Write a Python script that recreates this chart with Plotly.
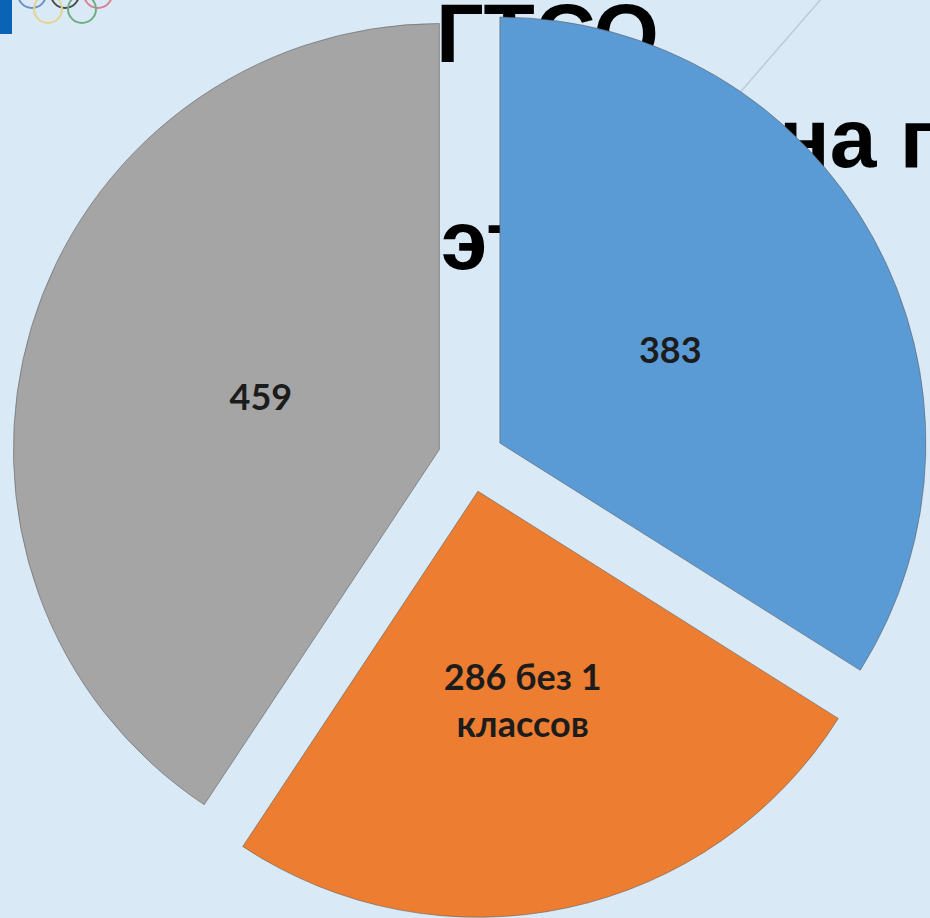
import plotly.graph_objects as go

# ---- data ----
categories = ["Группа 1", "Группа 2", "Группа 3"]
values = [383, 286, 459]
value_notes = ["", " без 1<br>классов", ""]
slice_colors = ["#5b9bd5", "#ed7d31", "#a5a5a5"]
title_lines = ["ГТСО", "на городском", "этапе"]

W, H = 930, 918
CX, CY = 471, 459          # pie centre (px)
R_MAIN = 426               # slice radius (px)
GAP = 33                   # explode distance (px)
R_LABEL = 365              # radius of helper pie that places the value labels

labels_text = [f"{v}{n}" for v, n in zip(values, value_notes)]


def px(x):
    return x / W


def py(y):
    return 1 - y / H


def domain_for(r, gap):
    half = r + gap
    return dict(x=[max(0, px(CX - half)), min(1, px(CX + half))],
                y=[max(0, py(CY + half)), min(1, py(CY - half))])


fig = go.Figure()

# exploded pie
fig.add_trace(go.Pie(
    labels=categories,
    values=values,
    textinfo="none",
    marker=dict(colors=slice_colors, line=dict(color="rgba(90,90,90,0.55)", width=1)),
    pull=[GAP / R_MAIN] * len(values),
    sort=False,
    direction="clockwise",
    rotation=0,
    showlegend=False,
    hoverinfo="label+value",
    domain=domain_for(R_MAIN, GAP),
))

# same data, transparent, smaller: only positions the data labels
fig.add_trace(go.Pie(
    labels=categories,
    values=values,
    text=labels_text,
    textinfo="text",
    textposition="inside",
    insidetextorientation="horizontal",
    textfont=dict(family="Lato", size=36, color="#1c1c1c", weight="bold"),
    marker=dict(colors=["rgba(0,0,0,0)"] * len(values), line=dict(width=0)),
    pull=[GAP / R_LABEL] * len(values),
    sort=False,
    direction="clockwise",
    rotation=0,
    showlegend=False,
    hoverinfo="skip",
    domain=domain_for(R_LABEL, GAP),
))

shapes = []
# title text lines drawn beneath the pie
line_specs = [(433, 25), (776, 130), (438, 232)]
for txt, (x0, yc) in zip(title_lines, line_specs):
    shapes.append(dict(
        type="rect", xref="paper", yref="paper", layer="below",
        x0=px(x0), x1=px(x0 + 10), y0=py(yc + 40), y1=py(yc - 40),
        line=dict(width=0), fillcolor="rgba(0,0,0,0)",
        label=dict(text=txt, textposition="middle left", padding=0,
                   font=dict(family="Liberation Sans, Arial", size=84, color="#000000", weight="bold")),
    ))

# decorative background: cable line, logo tab and rings
shapes.append(dict(type="line", xref="paper", yref="paper", layer="below",
                   x0=px(822), y0=py(-2), x1=px(690), y1=py(150),
                   line=dict(color="#bccbd6", width=1.5)))
shapes.append(dict(type="rect", xref="paper", yref="paper", layer="below",
                   x0=px(0), x1=px(12), y0=py(34), y1=py(0),
                   line=dict(width=0), fillcolor="#0b63b6"))
rings = [(32, -6, "#6d8fc4"), (65, -6, "#4a4a4a"), (98, -6, "#d9818f"),
         (48, 9, "#e3d58e"), (82, 9, "#6fae80")]
for cx, cy, col in rings:
    shapes.append(dict(type="circle", xref="paper", yref="paper", layer="below",
                       x0=px(cx - 14), x1=px(cx + 14), y0=py(cy + 14), y1=py(cy - 14),
                       line=dict(color=col, width=2)))

fig.update_layout(
    width=W, height=H,
    margin=dict(l=0, r=0, t=0, b=0),
    paper_bgcolor="#d9e9f5",
    plot_bgcolor="#d9e9f5",
    shapes=shapes,
)

fig.write_html("out.html", config={"displayModeBar": False},
               post_script="document.body.style.margin='0px';")
